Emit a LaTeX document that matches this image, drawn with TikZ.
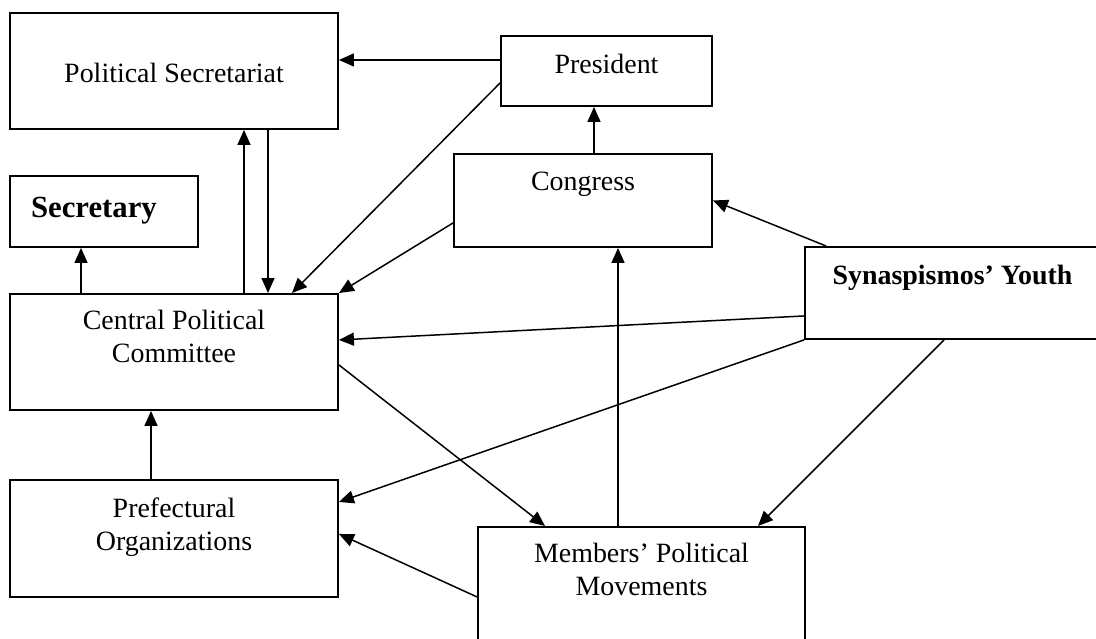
\documentclass[tikz,border=0pt]{standalone}
\usepackage{fontspec}
\setmainfont{Liberation Serif}
\usepackage{tikz}
\usetikzlibrary{arrows.meta}

\begin{document}
\begin{tikzpicture}[x=0.02cm,y=-0.02cm]
    \tikzstyle{orgbox}=[draw, line width=1.1pt, anchor=north
    , inner xsep=2pt, inner ysep=0pt, align=center
    , font=\fontsize{15.9}{18.8}\selectfont]
    \tikzstyle{link}=[line width=0.85pt
    , -{Triangle[length=0.3cm,width=0.26cm]}]
    \useasboundingbox (0,0) rectangle (1096,639);
    % Draw the boxes
    \node[orgbox, minimum width=6.56cm, minimum height=2.32cm
    , text height=1.40cm, text depth=0.92cm] (polsec) at (174,12) {Political Secretariat};
    \node[orgbox, minimum width=4.22cm, minimum height=1.40cm
    , text height=0.76cm, text depth=0.64cm] (pres) at (606.5,35) {President};
    \node[orgbox, minimum width=5.16cm, minimum height=1.86cm
    , text height=0.74cm, text depth=1.12cm] (congress) at (583,153) {Congress};
    \node[orgbox, inner xsep=0.42cm, text width=2.92cm, align=left
    , minimum height=1.42cm, text height=0.84cm, text depth=0.58cm
    , font=\fontsize{17.5}{20}\selectfont\bfseries] (secretary) at (104,175) {Secretary};
    \node[orgbox, minimum width=6.56cm, minimum height=2.32cm
    , text height=1.38cm, text depth=0.94cm] (cpc) at (174,293) {Central Political\\Committee};
    \node[orgbox, minimum width=5.90cm, minimum height=1.84cm
    , text height=0.76cm, text depth=1.08cm
    , font=\fontsize{15.9}{18.8}\selectfont\bfseries] (youth) at (952.5,246) {Synaspismos’ Youth};
    \node[orgbox, minimum width=6.56cm, minimum height=2.34cm
    , text height=1.42cm, text depth=0.92cm] (prefect) at (174,479) {Prefectural\\Organizations};
    \node[orgbox, minimum width=6.54cm, minimum height=2.60cm
    , text height=1.38cm, text depth=1.22cm] (members) at (641.5,526) {Members’ Political\\Movements};
    % Draw the links
    \draw[link] ([yshift=0.22cm]pres.west) -- ([yshift=0.22cm]pres.west -| polsec.east);
    \draw[link] ([yshift=-0.24cm]pres.west) -- ([xshift=2.36cm]cpc.north);
    \draw[link] ([yshift=-0.45cm]congress.west) -- (cpc.north east);
    \draw[link] ([xshift=0.22cm]congress.north) -- ([xshift=0.22cm]congress.north |- pres.south);
    \draw[link] ([xshift=1.40cm]cpc.north) -- ([xshift=1.40cm]cpc.north |- polsec.south);
    \draw[link] ([xshift=1.88cm]polsec.south) -- ([xshift=1.88cm]polsec.south |- cpc.north);
    \draw[link] ([xshift=-1.86cm]cpc.north) -- ([xshift=-1.86cm]cpc.north |- secretary.south);
    \draw[link] ([xshift=-0.46cm]prefect.north) -- ([xshift=-0.46cm]prefect.north |- cpc.south);
    % Links from the youth
    \draw[link] ([xshift=0.44cm]youth.north west) -- (congress.east);
    \draw[link] ([yshift=-0.46cm]youth.west) -- ([yshift=0.24cm]cpc.east);
    \draw[link] (youth.south west) -- ([yshift=0.73cm]prefect.east);
    \draw[link] ([xshift=2.80cm]youth.south west) -- ([xshift=2.33cm]members.north);
    % Links of the members
    \draw[link] ([yshift=-0.26cm]cpc.east) -- ([xshift=-1.93cm]members.north);
    \draw[link] ([xshift=-0.47cm]members.north) -- ([xshift=-0.47cm]members.north |- congress.south);
    \draw[link] ([yshift=-0.10cm]members.west) -- ([yshift=0.09cm]prefect.east);
\end{tikzpicture}
\end{document}
